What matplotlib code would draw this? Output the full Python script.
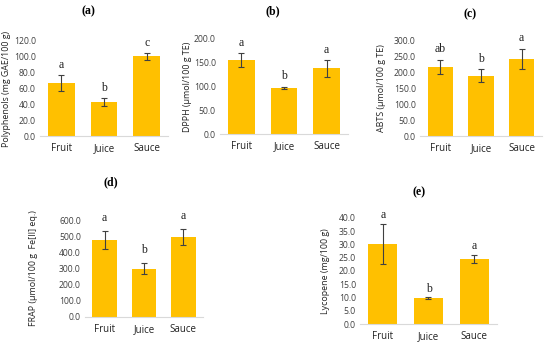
import matplotlib
matplotlib.use("Agg")
import matplotlib.pyplot as plt
import numpy as np

categories = ["Fruit", "Juice", "Sauce"]

polyphenols = [67.0, 43.0, 100.5]
polyphenols_err = [10.0, 5.5, 4.0]
polyphenols_letters = ["a", "b", "c"]

dpph = [156.0, 97.0, 138.0]
dpph_err = [15.0, 2.5, 17.0]
dpph_letters = ["a", "b", "a"]

abts = [216.0, 188.0, 241.0]
abts_err = [23.0, 20.0, 32.0]
abts_letters = ["ab", "b", "a"]

frap = [478.0, 300.0, 495.0]
frap_err = [55.0, 35.0, 50.0]
frap_letters = ["a", "b", "a"]

lycopene = [30.2, 9.8, 24.7]
lycopene_err = [7.5, 0.3, 1.5]
lycopene_letters = ["a", "b", "a"]

W, H = 550, 342
BAR = "#FFC000"
SANS = "Open Sans"
SERIF = "Liberation Serif"

fig = plt.figure(figsize=(W / 100, H / 100), dpi=100)


def panel(x0, x1, y0, ytop, ymax, step, vals, errs, letters, ylabel, title,
          title_xy, ylabel_x, letter_pad):
    # pixel box -> figure fractions
    ax = fig.add_axes([x0 / W, 1 - y0 / H, (x1 - x0) / W, (y0 - ytop) / H])
    x = np.arange(len(categories))
    ax.bar(x, vals, width=0.63, color=BAR, zorder=2)
    ax.errorbar(x, vals, yerr=errs, fmt="none", ecolor="#404040",
                elinewidth=0.8, capsize=2, capthick=0.8, zorder=3)
    for xi, v, e, l in zip(x, vals, errs, letters):
        ax.text(xi, v + e + letter_pad, l, ha="center", va="bottom",
                family=SERIF, fontsize=8.5, color="#222222", clip_on=False)
    ax.set_xlim(-0.5, 2.5)
    ax.set_ylim(0, ymax)
    ticks = np.arange(0, ymax + step / 2, step)
    ax.set_yticks(ticks)
    ax.set_yticklabels([f"{t:.1f}" for t in ticks],
                       family=SANS, fontsize=6.2, color="#404040")
    ax.set_xticks(x)
    ax.set_xticklabels(categories, family=SANS, fontsize=7, color="#222222")
    ax.tick_params(axis="y", length=0, pad=3)
    ax.tick_params(axis="x", length=0, pad=5)
    for s in ["top", "right", "left"]:
        ax.spines[s].set_visible(False)
    ax.spines["bottom"].set_color("#D9D9D9")
    ax.spines["bottom"].set_linewidth(0.8)
    ax.patch.set_alpha(0)
    fig.text(title_xy[0] / W, 1 - title_xy[1] / H, title, ha="center",
             va="center", family=SERIF, fontsize=8.5, fontweight="bold")
    fig.text(ylabel_x / W, 1 - (y0 + ytop) / 2 / H, ylabel, rotation=90,
             ha="center", va="center", family=SANS, fontsize=6.4,
             color="#222222")
    return ax


panel(40, 168, 136, 41, 120, 20, polyphenols, polyphenols_err,
      polyphenols_letters, "Polyphenols (mg GAE/100 g)", "(a)", (88, 11), 7, 5)
panel(220, 348, 134, 39, 200, 50, dpph, dpph_err, dpph_letters,
      "DPPH (μmol/100 g TE)", "(b)", (273, 11), 187, 9)
panel(420, 542, 136, 40, 300, 50, abts, abts_err, abts_letters,
      "ABTS (μmol/100 g TE)", "(c)", (470, 14), 382, 15)
panel(85, 203, 317, 220, 600, 100, frap, frap_err, frap_letters,
      "FRAP (μmol/100 g  Fe[II] eq.)", "(d)", (111, 182), 34, 40)
panel(360, 497, 324, 218, 40, 5, lycopene, lycopene_err, lycopene_letters,
      "Lycopene (mg/100 g)", "(e)", (419, 192), 326, 1)

fig.savefig("out.png", dpi=100)
